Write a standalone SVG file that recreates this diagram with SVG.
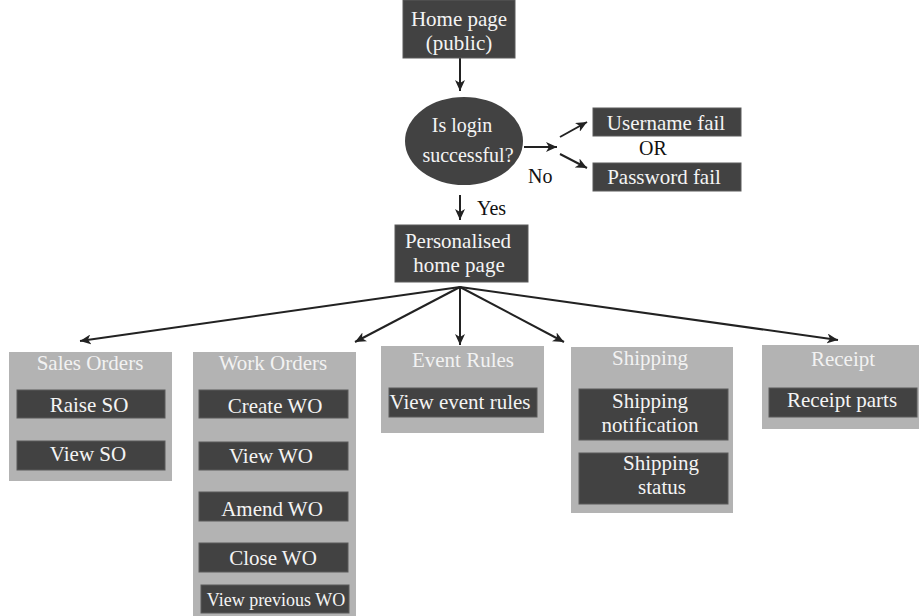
<svg xmlns="http://www.w3.org/2000/svg" width="920" height="616" viewBox="0 0 920 616">
<defs>
<marker id="ah" markerUnits="userSpaceOnUse" markerWidth="12" markerHeight="10" refX="11" refY="5" orient="auto">
<path d="M0,0 L11,5 L0,10 L3,5 z" fill="#222"/>
</marker>
<style>
.dark{fill:#424242;stroke:#5a5a5a;stroke-width:1}
.grp{fill:#b3b3b3}
.t{font-family:"Liberation Serif","Times New Roman",serif;font-size:21px;fill:#f4f4f4;text-anchor:middle}
.ts{font-size:18px}
.tt{font-family:"Liberation Serif","Times New Roman",serif;font-size:21px;fill:#f2f2f2;text-anchor:middle}
.k{font-family:"Liberation Serif","Times New Roman",serif;font-size:20px;fill:#111}
.c{stroke:#222;stroke-width:2;fill:none;marker-end:url(#ah)}
</style>
</defs>
<rect width="920" height="616" fill="#fff"/>

<g id="connectors">
<line class="c" x1="460" y1="58" x2="460" y2="91"/>
<line class="c" x1="524" y1="147" x2="557" y2="147"/>
<line class="c" x1="560" y1="137" x2="587" y2="122"/>
<line class="c" x1="560" y1="154" x2="587" y2="168"/>
<line class="c" x1="460" y1="195" x2="460" y2="220"/>
<line class="c" x1="460" y1="287" x2="80" y2="341"/>
<line class="c" x1="460" y1="287" x2="355" y2="342"/>
<line class="c" x1="460" y1="287" x2="460" y2="345"/>
<line class="c" x1="460" y1="287" x2="564" y2="342"/>
<line class="c" x1="460" y1="287" x2="838" y2="340"/>
<text class="k" x="528" y="183">No</text>
<text class="k" x="477" y="215">Yes</text>
<text class="k" x="653" y="155" text-anchor="middle">OR</text>
</g>

<g id="home">
<rect class="dark" x="403" y="0" width="112" height="58"/>
<text class="t" x="459" y="26">Home page</text>
<text class="t" x="459" y="50">(public)</text>
</g>

<g id="login">
<ellipse cx="464" cy="141" rx="59" ry="44" fill="#424242"/>
<text class="t" x="462" y="132" style="font-size:20px">Is login</text>
<text class="t" x="468" y="162" style="font-size:20px">successful?</text>
</g>

<g id="username-fail">
<rect class="dark" x="593" y="108" width="148" height="28"/>
<text class="t" x="666" y="130">Username fail</text>
</g>

<g id="password-fail">
<rect class="dark" x="593" y="163" width="148" height="28"/>
<text class="t" x="664" y="184">Password fail</text>
</g>

<g id="personalised">
<rect class="dark" x="395" y="225" width="133" height="57"/>
<text class="t" x="458" y="248">Personalised</text>
<text class="t" x="459" y="272">home page</text>
</g>

<g id="sales-orders">
<rect class="grp" x="9" y="352" width="163" height="129"/>
<text class="tt" x="90" y="370">Sales Orders</text>
<rect class="dark" x="17" y="390" width="148" height="28"/>
<text class="t" x="89" y="412">Raise SO</text>
<rect class="dark" x="17" y="441" width="148" height="29"/>
<text class="t" x="88" y="461">View SO</text>
</g>

<g id="work-orders">
<rect class="grp" x="193" y="352" width="163" height="264"/>
<text class="tt" x="273" y="370">Work Orders</text>
<rect class="dark" x="199" y="390" width="149" height="28"/>
<text class="t" x="275" y="413">Create WO</text>
<rect class="dark" x="199" y="442" width="149" height="28"/>
<text class="t" x="271" y="463">View WO</text>
<rect class="dark" x="199" y="492" width="149" height="29"/>
<text class="t" x="272" y="516">Amend WO</text>
<rect class="dark" x="199" y="543" width="149" height="29"/>
<text class="t" x="273" y="565">Close WO</text>
<rect class="dark" x="201" y="585" width="148" height="28"/>
<text class="t ts" x="276" y="606">View previous WO</text>
</g>

<g id="event-rules">
<rect class="grp" x="381" y="346" width="163" height="87"/>
<text class="tt" x="463" y="367">Event Rules</text>
<rect class="dark" x="389" y="388" width="148" height="29"/>
<text class="t" x="460" y="409">View event rules</text>
</g>

<g id="shipping">
<rect class="grp" x="571" y="347" width="162" height="166"/>
<text class="tt" x="650" y="365">Shipping</text>
<rect class="dark" x="579" y="389" width="149" height="51"/>
<text class="t" x="650" y="408">Shipping</text>
<text class="t" x="650" y="432">notification</text>
<rect class="dark" x="579" y="453" width="149" height="51"/>
<text class="t" x="661" y="470">Shipping</text>
<text class="t" x="662" y="494">status</text>
</g>

<g id="receipt">
<rect class="grp" x="762" y="345" width="157" height="84"/>
<text class="tt" x="843" y="366">Receipt</text>
<rect class="dark" x="769" y="388" width="148" height="29"/>
<text class="t" x="842" y="407">Receipt parts</text>
</g>
</svg>
